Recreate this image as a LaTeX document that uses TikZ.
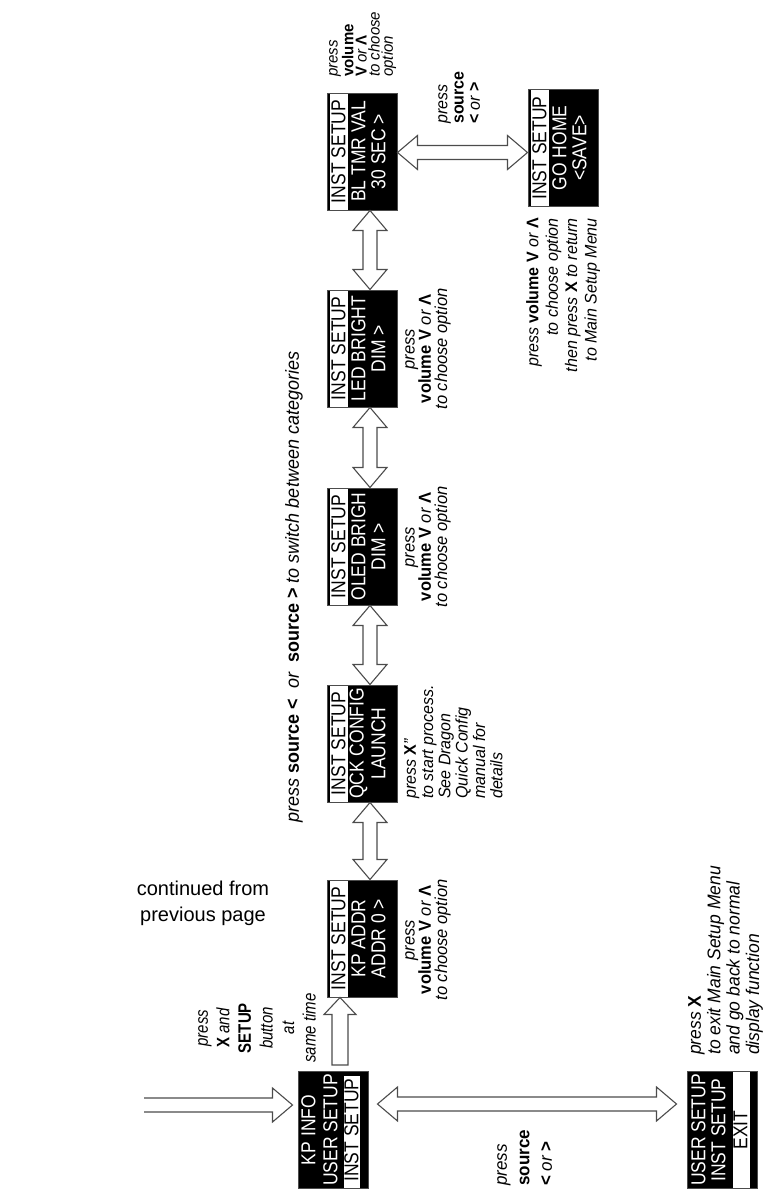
\documentclass[tikz,border=0pt]{standalone}
\usepackage{fontspec}
\setmainfont{Liberation Sans}
\usetikzlibrary{calc,positioning}

\newcommand{\scrfont}{\fontsize{17.5}{18}\selectfont}
\newcommand{\nf}[2]{\fontsize{#1}{#2}\selectfont\itshape}
\newcommand{\kw}[1]{{\upshape\bfseries #1}}
\newcommand{\voldn}{\kw{V}}
\newcommand{\volup}{\kw{Λ}}

\tikzset{
  panel/.style={draw=gray!60!black, line width=1pt, fill=black, minimum width=70pt, minimum height=117pt, inner sep=0pt},
  scr/.style={rotate=90, yscale=1.15, inner sep=0pt, text=white, font=\scrfont},
  scrsel/.style={scr, text=black},
  note/.style={rotate=90, yscale=1.05, inner sep=0pt, font=\nf{16.5}{15.5}, align=center},
  blkbase/.style={draw=gray!60!black, line width=1.1pt, fill=white, line join=miter},
  blktwo/.style={blkbase, to path={
    let \p1=(\tikztostart), \p2=(\tikztotarget), \n1={atan2(\y2-\y1,\x2-\x1)} in
    (\p1) -- ($(\p1)+(\n1:20pt)+(\n1+90:17pt)$) -- ($(\p1)+(\n1:20pt)+(\n1+90:7pt)$)
    -- ($(\p2)+(\n1+180:20pt)+(\n1+90:7pt)$) -- ($(\p2)+(\n1+180:20pt)+(\n1+90:17pt)$) -- (\p2)
    -- ($(\p2)+(\n1+180:20pt)+(\n1-90:17pt)$) -- ($(\p2)+(\n1+180:20pt)+(\n1-90:7pt)$)
    -- ($(\p1)+(\n1:20pt)+(\n1-90:7pt)$) -- ($(\p1)+(\n1:20pt)+(\n1-90:17pt)$) -- cycle}},
  blkone/.style={blkbase, to path={
    let \p1=(\tikztostart), \p2=(\tikztotarget), \n1={atan2(\y2-\y1,\x2-\x1)} in
    ($(\p1)+(\n1+90:7pt)$) -- ($(\p2)+(\n1+180:20pt)+(\n1+90:7pt)$) -- ($(\p2)+(\n1+180:20pt)+(\n1+90:17pt)$) -- (\p2)
    -- ($(\p2)+(\n1+180:20pt)+(\n1-90:17pt)$) -- ($(\p2)+(\n1+180:20pt)+(\n1-90:7pt)$) -- ($(\p1)+(\n1-90:7pt)$)}},
  blkbar/.style={blkone, to path={
    let \p1=(\tikztostart), \p2=(\tikztotarget), \n1={atan2(\y2-\y1,\x2-\x1)} in
    ($(\p1)+(\n1+90:8pt)$) -- ($(\p2)+(\n1+180:17pt)+(\n1+90:8pt)$) -- ($(\p2)+(\n1+180:17pt)+(\n1+90:16pt)$) -- (\p2)
    -- ($(\p2)+(\n1+180:17pt)+(\n1-90:16pt)$) -- ($(\p2)+(\n1+180:17pt)+(\n1-90:8pt)$) -- ($(\p1)+(\n1-90:8pt)$) -- cycle}},
}

\begin{document}
\begin{tikzpicture}[x=1pt, y=-1pt]
\useasboundingbox (0,0) rectangle (778,1200);

% main setup menu
\node[panel] (menu) at (333,1130) {};
\fill[white] ($(menu.north west)+(46,5)$) rectangle ($(menu.south west)+(62,-1)$);
\node[scr] at ($(menu.west)+(11,0)$) {KP INFO};
\node[scr] at ($(menu.west)+(33,0)$) {USER SETUP};
\node[scrsel] at ($(menu.west)+(54,0)$) {INST SETUP};

% exit screen
\node[panel] (exitm) at (722,1130) {};
\fill[white] ($(exitm.north west)+(46,1)$) rectangle ($(exitm.south west)+(63,-1)$);
\node[scr] at ($(exitm.west)+(12,0)$) {USER SETUP};
\node[scr] at ($(exitm.west)+(32,0)$) {INST SETUP};
\node[scrsel] at ($(exitm.west)+(54,0)$) {EXIT};

% inst setup categories
\foreach \n/\yy/\la/\lb in {kpaddr/938.5/KP ADDR/ADDR 0 >, qck/743.5/QCK CONFIG/LAUNCH,
    oled/546.5/OLED BRIGH/DIM >, led/348.5/LED BRIGHT/DIM >, bltmr/151.5/BL TMR VAL/30 SEC >}{
  \node[panel] (\n) at (362,\yy) {};
  \fill[white] ($(\n.north west)+(3,1)$) rectangle ($(\n.south west)+(21,-1)$);
  \node[scrsel] at ($(\n.west)+(12,0)$) {INST SETUP};
  \node[scr] at ($(\n.west)+(32,0)$) {\la};
  \node[scr] at ($(\n.west)+(52,0)$) {\lb};
}

% go home screen
\node[panel] (gohome) at (563,148) {};
\fill[white] ($(gohome.north west)+(3,1)$) rectangle ($(gohome.south west)+(21,-1)$);
\node[scrsel] at ($(gohome.west)+(12,0)$) {INST SETUP};
\node[scr] at ($(gohome.west)+(32,0)$) {GO HOME};
\node[scr] at ($(gohome.west)+(52,0)$) {<SAVE>};

% arrows
\coordinate (prev) at (144,1105);
\draw[blkone] (prev) to ($(menu.west)+(-5,-25)$);
\coordinate (uptail) at ($(menu.north)+(7,-6)$);
\draw[blkbar] (uptail) to (uptail |- kpaddr.south);
\draw[blktwo] ($(kpaddr.north)+(8,0)$) to ($(qck.south)+(8,0)$);
\draw[blktwo] ($(qck.north)+(8,0)$) to ($(oled.south)+(8,0)$);
\draw[blktwo] ($(oled.north)+(8,0)$) to ($(led.south)+(8,0)$);
\draw[blktwo] ($(led.north)+(8,0)$) to ($(bltmr.south)+(8,0)$);
\coordinate (fgl) at ($(bltmr.east)+(0,1)$);
\draw[blktwo] (fgl) to (fgl -| gohome.west);
\coordinate (ahl) at ($(menu.east)+(9,-26)$);
\draw[blktwo] (ahl) to ($(ahl -| exitm.west)+(-10,0)$);

% notes
\node[font=\fontsize{20}{26}\selectfont, align=center] (cont) at (203,903) {continued from\\previous page};
\node[note, yscale=1.14, font=\nf{15}{18}] (xnote) at (257,1028) {press\\\kw{X} and\\\kw{SETUP}\\button\\at\\same time};
\node[note, font=\nf{18}{18}] (catnote) at (294,587) {press \kw{source <} \ or \ \kw{source >} to switch between categories};
\node[note, anchor=north] (bnote) at (405,940) {press\\\kw{volume \voldn} or \volup\\to choose option};
\node[note, anchor=north west, align=left, font=\nf{16}{16.5}] (cnote) at (404,799) {press \kw{X}''\\to start process.\\See Dragon\\Quick Config\\manual for\\details};
\node[note, anchor=north] (dnote) at (405,547) {press\\\kw{volume \voldn} or \volup\\to choose option};
\node[note, anchor=north] (enote) at (405,349) {press\\\kw{volume \voldn} or \volup\\to choose option};
\node[note, anchor=north west, align=left, font=\nf{15}{12.5}] (fnote) at (329,77) {press\\\kw{volume}\\\voldn{} or \volup\\to choose\\option};
\node[note, anchor=north west, align=left, font=\nf{16}{15.5}] (fgnote) at (438,124) {press\\\kw{source}\\\kw{<} or \kw{>}};
\node[note, anchor=north east, align=right, font=\nf{16}{18.5}] (gnote) at (526,218) {press \kw{volume \voldn} or \volup\\to choose option\\then press \kw{X} to return\\to Main Setup Menu};
\node[note, anchor=north west, align=left, font=\nf{17}{21.5}] (srcnote) at (497,1186) {press\\\kw{source}\\\kw{<} or \kw{>}};
\node[note, anchor=north west, align=left, font=\nf{17.5}{18.5}] (xnote2) at (688,1055) {press \kw{X}\\to exit Main Setup Menu\\and go back to normal\\display function};
\end{tikzpicture}
\end{document}
